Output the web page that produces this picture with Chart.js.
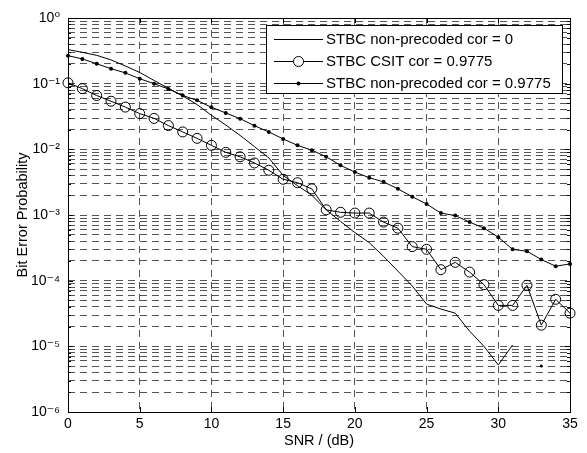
<!DOCTYPE html>
<html><head><meta charset="utf-8">
<script src="https://cdn.jsdelivr.net/npm/chart.js@4/dist/chart.umd.min.js"></script>
<style>html,body{margin:0;padding:0;background:#fff}</style>
</head><body>
<canvas id="c" width="587" height="453"></canvas>
<script>
// ---- data ----
const snr = [0,1,2,3,4,5,6,7,8,9,10,11,12,13,14,15,16,17,18,19,20,21,22,23,24,25,26,27,28,29,30,31,32,33,34,35];
const seriesLabels = ['STBC non-precoded cor = 0', 'STBC CSIT cor = 0.9775', 'STBC non-precoded cor = 0.9775'];
const berNonPrecodedCor0 = [0.33,0.30,0.27,0.23,0.186,0.148,0.112,0.085,0.065,0.048,0.033,0.0234,0.0163,0.011,0.0074,0.004,0.0028,0.002,0.0012,0.0008,0.00054,0.00038,0.000235,0.00014,0.000083,0.000044,0.000037,0.000032,0.000017,0.00001,0.0000052,0.0000105,null,0.000005,null,null];
const berCsitCor = [0.103,0.084,0.066,0.054,0.044,0.035,0.0296,0.023,0.0184,0.0147,0.0115,0.009,0.0077,0.0062,0.0048,0.0035,0.0031,0.0025,0.0012,0.0011,0.00107,0.00107,0.00078,0.00063,0.00033,0.0003,0.000147,0.00019,0.000135,0.000087,0.000042,0.000042,0.000085,0.000021,0.000052,0.000032];
const berNonPrecodedCor = [0.267,0.238,0.201,0.169,0.146,0.119,0.1,0.083,0.066,0.0557,0.0436,0.0358,0.0293,0.0229,0.0184,0.0144,0.0115,0.0097,0.0077,0.0057,0.0045,0.0037,0.0032,0.0025,0.0019,0.00147,0.00107,0.00098,0.00078,0.00063,0.00046,0.0003,0.00028,0.00021,0.000166,0.00018];
const xTickValues = [0,5,10,15,20,25,30,35];
const yDecades = [-6,-5,-4,-3,-2,-1,0];
const yTickLabels = ['10⁻⁶','10⁻⁵','10⁻⁴','10⁻³','10⁻²','10⁻¹','10⁰'];
const xTitle = 'SNR / (dB)';
const yTitle = 'Bit Error Probability';

const FONT = '"Liberation Sans", Arial, "DejaVu Sans", sans-serif';
const pts = arr => snr.map((x, i) => ({x: x, y: arr[i]}));

function isDecade(v){ const e = Math.log10(v); return Math.abs(e - Math.round(e)) < 1e-9; }

const boxPlugin = {
  id: 'box',
  afterDatasetsDraw(chart){
    const {ctx, chartArea, scales} = chart;
    const L = Math.round(chartArea.left), R = Math.round(chartArea.right), T = Math.round(chartArea.top), B = Math.round(chartArea.bottom);
    ctx.save();
    ctx.strokeStyle = '#000'; ctx.lineWidth = 1; ctx.setLineDash([]);
    ctx.beginPath();
    scales.x.ticks.forEach(t => {
      const p = Math.round(scales.x.getPixelForValue(t.value)) + 0.5;
      ctx.moveTo(p, B); ctx.lineTo(p, B - 5);
      ctx.moveTo(p, T); ctx.lineTo(p, T + 5);
    });
    scales.y.ticks.forEach(t => {
      const p = Math.round(scales.y.getPixelForValue(t.value)) + 0.5;
      const len = isDecade(t.value) ? 5 : 3;
      ctx.moveTo(L, p); ctx.lineTo(L + len, p);
      ctx.moveTo(R, p); ctx.lineTo(R - len, p);
    });
    ctx.stroke();
    ctx.strokeRect(L + 0.5, T + 0.5, R - L, B - T);
    ctx.restore();
  }
};

const legendPlugin = {
  id: 'boxLegend',
  afterDraw(chart){
    const {ctx, chartArea} = chart;
    ctx.save();
    ctx.font = '15px ' + FONT;
    const maxW = Math.max(...chart.data.datasets.map(d => ctx.measureText(d.label).width));
    const right = Math.round(chartArea.right) - 8;
    const top = Math.round(chartArea.top) + 7;
    const textOff = 60;
    const width = textOff + maxW + 11;
    const left = Math.round(right - width);
    const height = 68;
    ctx.fillStyle = '#fff';
    ctx.fillRect(left, top, right - left, height);
    ctx.strokeStyle = '#000'; ctx.lineWidth = 1;
    ctx.strokeRect(left + 0.5, top + 0.5, right - left, height);
    const rows = [14, 36, 58];
    chart.data.datasets.forEach((d, i) => {
      const y = top + rows[i] + 0.5;
      const x0 = left + 8, x1 = left + 57, xm = (x0 + x1) / 2;
      ctx.beginPath(); ctx.moveTo(x0, y); ctx.lineTo(x1, y); ctx.strokeStyle = '#000'; ctx.stroke();
      if (d.legendMarker === 'circle') {
        ctx.beginPath(); ctx.arc(xm, y, 5, 0, Math.PI * 2); ctx.fillStyle = '#fff'; ctx.fill(); ctx.stroke();
      } else if (d.legendMarker === 'dot') {
        ctx.beginPath(); ctx.arc(xm, y, 2, 0, Math.PI * 2); ctx.fillStyle = '#000'; ctx.fill();
      }
      ctx.fillStyle = '#000';
      ctx.textBaseline = 'middle'; ctx.textAlign = 'left';
      ctx.fillText(d.label, left + textOff, y);
    });
    ctx.restore();
  }
};

new Chart(document.getElementById('c'), {
  type: 'line',
  data: {
    datasets: [
      {label: seriesLabels[0], data: pts(berNonPrecodedCor0), borderColor: '#000', borderWidth: 1,
       pointRadius: snr.map((x, i) => (berNonPrecodedCor0[i] !== null && berNonPrecodedCor0[i-1] == null && berNonPrecodedCor0[i+1] == null) ? 1.5 : 0),
       pointBackgroundColor: '#000', pointBorderColor: '#000', pointBorderWidth: 0, spanGaps: false, tension: 0, clip: false, legendMarker: 'none'},
      {label: seriesLabels[1], data: pts(berCsitCor), borderColor: '#000', borderWidth: 1,
       pointStyle: 'circle', pointRadius: 5, pointBorderColor: '#000', pointBackgroundColor: 'rgba(0,0,0,0)', pointBorderWidth: 1,
       tension: 0, clip: false, legendMarker: 'circle'},
      {label: seriesLabels[2], data: pts(berNonPrecodedCor), borderColor: '#000', borderWidth: 1,
       pointStyle: 'circle', pointRadius: 2, pointBorderWidth: 0, pointBackgroundColor: '#000',
       tension: 0, clip: false, legendMarker: 'dot'}
    ]
  },
  options: {
    responsive: false, animation: false, devicePixelRatio: 1, events: [],
    layout: {padding: {left: 0, top: 18, right: 17, bottom: 0}},
    plugins: {legend: {display: false}, tooltip: {enabled: false}},
    scales: {
      x: {
        type: 'linear', min: 0, max: 35,
        afterBuildTicks: s => { s.ticks = xTickValues.map(v => ({value: v})); },
        afterFit: s => { s.height = 41; },
        ticks: {autoSkip: false, maxRotation: 0, padding: 4, color: '#000', font: {family: FONT, size: 14}},
        grid: {color: '#555', lineWidth: 1, drawTicks: false},
        border: {display: false, dash: [7, 5]},
        title: {display: true, text: xTitle, color: '#000', font: {family: FONT, size: 14.5}, padding: {top: 0, bottom: 3}}
      },
      y: {
        type: 'logarithmic', min: 1e-6, max: 1,
        afterBuildTicks: s => {
          const t = [];
          yDecades.forEach(e => {
            if (e === 0) { t.push({value: 1}); return; }
            for (let m = 1; m <= 9; m++) t.push({value: m * Math.pow(10, e)});
          });
          s.ticks = t;
        },
        afterFit: s => { s.width = 68; },
        ticks: {autoSkip: false, padding: 8, color: '#000', font: {family: FONT, size: 14},
          callback: v => { if (!isDecade(v)) return ''; const e = Math.round(Math.log10(v)); return yTickLabels[yDecades.indexOf(e)]; }},
        grid: {color: '#555', lineWidth: 1, drawTicks: false},
        border: {display: false, dash: [7, 5]},
        title: {display: true, text: yTitle, color: '#000', font: {family: FONT, size: 14.5}, padding: {top: 14, bottom: 0}}
      }
    }
  },
  plugins: [boxPlugin, legendPlugin]
});
</script>
</body></html>
